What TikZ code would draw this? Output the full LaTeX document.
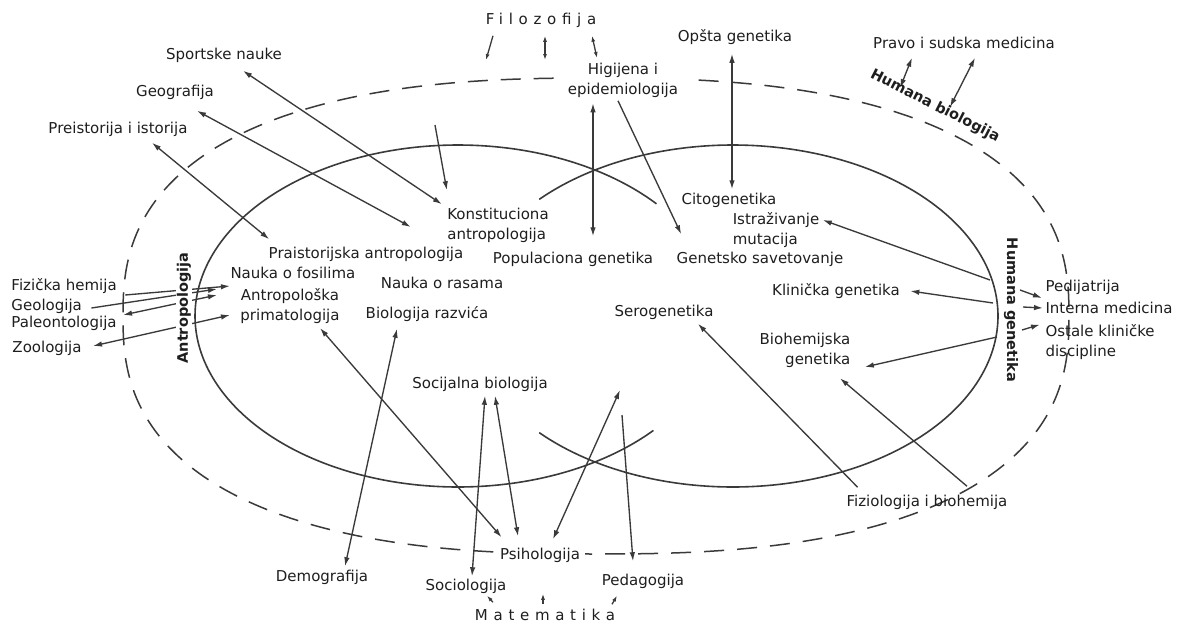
\documentclass[tikz,border=0pt]{standalone}
\usepackage{fontspec}
\setmainfont{DejaVu Sans}
\usetikzlibrary{arrows.meta,backgrounds}
\definecolor{ink}{HTML}{1E1E1E}
\definecolor{wire}{HTML}{3A3A3A}

\begin{document}
\begin{tikzpicture}[x=1pt,y=-1pt,line width=1pt,
  lbl/.style={inner sep=1pt,text=ink,font=\fontsize{15}{20}\selectfont},
  tag/.style={lbl,text height=11pt,text depth=3.5pt},
  field/.style={inner sep=1pt,text=ink,font=\fontsize{14.5}{17}\selectfont\bfseries},
  spread/.style={tag,font=\fontsize{15}{20}\selectfont\addfontfeature{LetterSpace=38}},
  link/.style={draw=wire,line width=1.35pt,-{Latex[length=9pt,width=5.5pt]}},
  bilink/.style={draw=wire,line width=1.35pt,{Latex[length=9pt,width=5.5pt]}-{Latex[length=9pt,width=5.5pt]}},
  stub/.style={draw=wire,line width=1.3pt,-{Latex[length=6pt,width=4pt]}},
  bistub/.style={draw=wire,line width=1.3pt,{Latex[length=6pt,width=4pt]}-{Latex[length=6pt,width=4pt]}},
  ring/.style={draw=wire,line width=1.6pt},
  outer/.style={draw=wire,line width=1.5pt,dash pattern=on 20pt off 13pt}]
\path[use as bounding box] (0,0) rectangle (1181,627);
\node[spread] (filoz) at (541,21) {Filozofija};
\node[tag] (opsta) at (735,38) {Opšta genetika};
\node[lbl,align=center,fill=white,inner xsep=9pt] (higij) at (623,80) {Higijena i\\epidemiologija};
\node[tag] (pravo) at (964,45) {Pravo i sudska medicina};
\node[field,rotate=-27] (humbio) at (935,106) {Humana biologija};
\node[tag] (sport) at (224,56) {Sportske nauke};
\node[tag] (geogr) at (175,93) {Geografija};
\node[tag] (preist) at (118,130) {Preistorija i istorija};
\node[lbl,align=left] (konst) at (498,225) {Konstituciona\\antropologija};
\node[tag] (praist) at (366,255) {Praistorijska antropologija};
\node[tag] (popgen) at (573,260) {Populaciona genetika};
\node[tag] (citog) at (729,201) {Citogenetika};
\node[lbl,align=left] (istraz) at (776,230) {Istraživanje\\mutacija};
\node[tag] (genets) at (760,260) {Genetsko savetovanje};
\node[tag,anchor=west] (fosil) at (229,275) {Nauka o fosilima};
\node[lbl,align=center] (primat) at (290,306) {Antropološka\\primatologija};
\node[tag] (rasa) at (442,285) {Nauka o rasama};
\node[tag] (razv) at (427,315) {Biologija razvića};
\node[tag] (klin) at (836,292) {Klinička genetika};
\node[tag] (serog) at (664,313) {Serogenetika};
\node[lbl,align=right] (biohem) at (805,350) {Biohemijska\\genetika};
\node[tag] (socbio) at (480,385) {Socijalna biologija};
\node[tag,anchor=west] (fizhem) at (10,287) {Fizička hemija};
\node[tag,anchor=west] (geol) at (10,307) {Geologija};
\node[tag,anchor=west] (paleo) at (10,324) {Paleontologija};
\node[tag,anchor=west] (zool) at (11,349) {Zoologija};
\node[field,rotate=90,fill=white,inner sep=0.5pt] (antrop) at (184,308) {Antropologija};
\node[tag,anchor=west] (pedij) at (1044,288) {Pedijatrija};
\node[tag,anchor=west] (interna) at (1044,310) {Interna medicina};
\node[lbl,align=left,anchor=north west] (ostale) at (1044,323) {Ostale kliničke\\discipline};
\node[field,rotate=-90] (humgen) at (1011,310) {Humana genetika};
\node[tag] (fiziol) at (927,503) {Fiziologija i biohemija};
\node[tag,fill=white,inner xsep=5pt] (psiho) at (540,556) {Psihologija};
\node[tag] (demog) at (322,578) {Demografija};
\node[tag] (sociol) at (466,587) {Sociologija};
\node[tag] (pedag) at (643,582) {Pedagogija};
\node[spread] (matem) at (545,617) {Matematika};
\coordinate (kfree) at (435,125);
\coordinate (f1) at (486,60);
\coordinate (f2) at (545,60);
\coordinate (f3) at (597,58);
\coordinate (p1) at (900,88);
\coordinate (p2) at (950,107);
\coordinate (ge1) at (990,280);
\coordinate (ge2) at (993,303);
\coordinate (ge3) at (997,337);
\coordinate (o1) at (1020,290);
\coordinate (o2) at (1023,307);
\coordinate (o3) at (1022,330);
\coordinate (ps1) at (620,390);
\coordinate (pd1) at (622,415);
\draw[ring] plot[domain=41:318,samples=120,smooth] ({458+263*cos(\x)},{316-171*sin(\x)});
\draw[ring] plot[domain=-137:137,samples=120,smooth] ({733+265*cos(\x)},{316-171*sin(\x)});
\begin{pgfonlayer}{background}
\draw[outer] plot[domain=1:361,samples=181,smooth] ({596+473*cos(\x)*abs(cos(\x))^(-0.2)},{316-238*sin(\x)*abs(sin(\x))^(-0.2)});
\draw[bilink] ([shift={(19,6)}]sport.south) -- ([shift={(-4,-2)}]konst.north west);
\draw[bilink] ([shift={(22,9)}]geogr.south) -- ([shift={(-35,2)}]konst.west);
\draw[bilink] ([shift={(34,4)}]preist.south) -- ([shift={(2,-7)}]praist.north west);
\draw[link] (kfree) -- ([shift={(1,-16)}]konst.north west);
\draw[bilink] ([shift={(-30,4.5)}]higij.south) -- ([shift={(20,-15)}]popgen.north);
\draw[link] ([shift={(-5,2)}]higij.south) -- ([shift={(6,-17)}]genets.north west);
\draw[bilink] ([shift={(-3,7)}]opsta.south) -- ([shift={(3,-3)}]citog.north);
\draw[bilink] ([shift={(-52,4)}]pravo.south) -- (p1);
\draw[bilink] ([shift={(11,4)}]pravo.south) -- (p2);
\draw[stub] ([shift={(-48,6)}]filoz.south) -- (f1);
\draw[bistub] ([shift={(4,6)}]filoz.south) -- (f2);
\draw[bistub] ([shift={(51,6)}]filoz.south) -- (f3);
\draw[link] (ge1) -- ([shift={(2,-10)}]istraz.east);
\draw[link] (ge2) -- ([shift={(9,-1)}]klin.east);
\draw[link] (ge3) -- ([shift={(13,17)}]biohem.east);
\draw[link] ([shift={(12.5,-7)}]fiziol.north west) -- ([shift={(-17,2)}]serog.south east);
\draw[link] ([shift={(40,-8)}]fiziol.north) -- ([shift={(35,9.5)}]biohem.south);
\draw[link] (o1) -- ([shift={(-2,10)}]pedij.west);
\draw[link] (o2) -- ([shift={(-1,-2)}]interna.west);
\draw[link] (o3) -- ([shift={(-4,1.5)}]ostale.north west);
\draw[link] ([shift={(7,8)}]fizhem.east) -- ([shift={(1,11)}]fosil.west);
\draw[link] ([shift={(8,1)}]geol.east) -- ([shift={(-12,14)}]fosil.west);
\draw[bilink] ([shift={(5,-9)}]paleo.east) -- ([shift={(-22,-11)}]primat.west);
\draw[bilink] ([shift={(10,-3)}]zool.east) -- ([shift={(-9,9)}]primat.west);
\draw[bilink] ([shift={(-30,5)}]razv.south) -- ([shift={(23,-3)}]demog.north);
\draw[bilink] ([shift={(30,3)}]primat.south) -- ([shift={(7,-10)}]psiho.north west);
\draw[bilink] ([shift={(5,2)}]socbio.south) -- ([shift={(6,-2)}]sociol.north);
\draw[bilink] ([shift={(15,2)}]socbio.south) -- ([shift={(-22,-11)}]psiho.north);
\draw[bilink] ([shift={(13,-8)}]psiho.north) -- (ps1);
\draw[link] (pd1) -- ([shift={(-10,-12)}]pedag.north);
\draw[stub] ([shift={(-52,-6)}]matem.north) -- ([shift={(21,0)}]sociol.south);
\draw[stub] ([shift={(-2,-4)}]matem.north) -- ([shift={(3,29)}]psiho.south);
\draw[stub] ([shift={(67,-4)}]matem.north) -- ([shift={(-26,5)}]pedag.south);
\end{pgfonlayer}
\end{tikzpicture}
\end{document}
